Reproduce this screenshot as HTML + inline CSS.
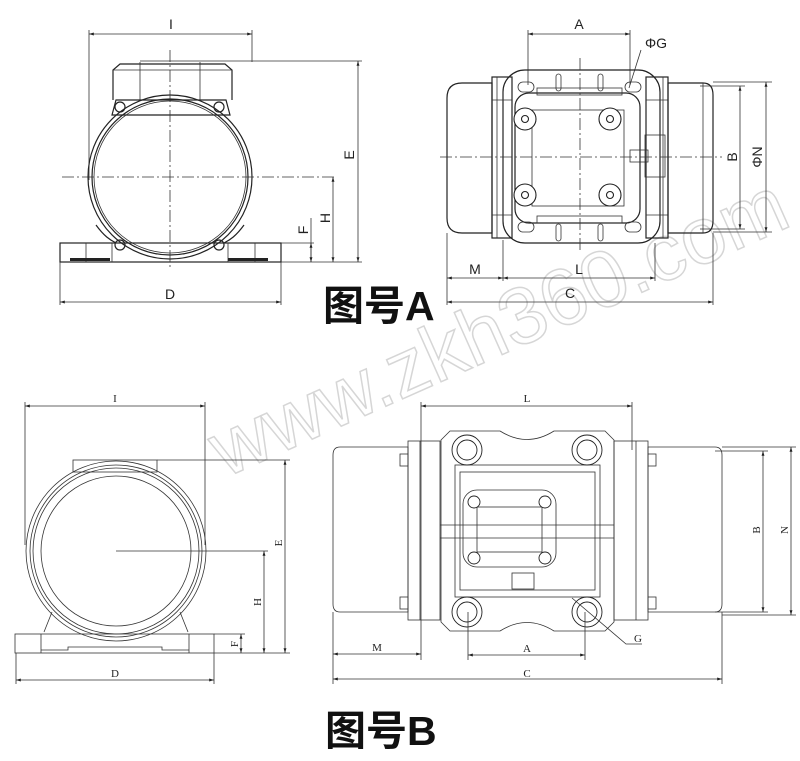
<!DOCTYPE html>
<html><head><meta charset="utf-8"><style>
html,body{margin:0;padding:0;background:#fff;width:800px;height:761px;overflow:hidden}
svg{display:block}
.l{stroke:#222;fill:none;stroke-width:1.2}
.t{stroke:#333;fill:none;stroke-width:0.8}
.d{stroke:#333;fill:none;stroke-width:0.8}
.c{stroke:#333;fill:none;stroke-width:0.8;stroke-dasharray:12 3 2 3}
.lb{font-family:"Liberation Sans",sans-serif;font-size:14px;fill:#222}
.ls{font-family:"Liberation Serif",serif;font-size:11px;fill:#222}
</style></head><body>
<svg width="800" height="761" viewBox="0 0 800 761" xmlns="http://www.w3.org/2000/svg">
<defs>
<marker id="a" viewBox="0 0 10 10" refX="10" refY="5" markerWidth="8" markerHeight="6" orient="auto-start-reverse"><path d="M0,2 L10,5 L0,8 z" fill="#222"/></marker>
</defs>

<!-- watermark -->
<text x="0" y="0" transform="translate(225,478) rotate(-24)" font-family="Liberation Sans,sans-serif" font-size="80" fill="none" stroke="#d6d6d6" stroke-width="1.5">www.zkh360.com</text>

<!-- ===== Top-left view A ===== -->
<g>
<line class="d" x1="89" y1="30" x2="89" y2="180"/>
<line class="d" x1="252" y1="30" x2="252" y2="62"/>
<line class="d" x1="89" y1="34" x2="252" y2="34" marker-start="url(#a)" marker-end="url(#a)"/>
<text class="lb" x="171" y="29" text-anchor="middle">I</text>
<path class="l" d="M113,100 L113,70 L120,64 L225,64 L232,70 L232,100"/>
<line class="t" x1="113" y1="70" x2="232" y2="70"/>
<line class="t" x1="140" y1="62" x2="140" y2="100"/><line class="t" x1="200" y1="62" x2="200" y2="100"/>
<line class="d" x1="140" y1="61" x2="362" y2="61"/>
<path class="l" d="M116,100 L226,100 L230,115 L112,115 Z" fill="#fff"/>
<circle class="l" cx="170" cy="177" r="82" fill="#fff"/>
<circle class="l" cx="170" cy="177" r="78"/>
<circle class="t" cx="170" cy="177" r="76"/>
<path class="l" d="M96,225 C104,236 110,240 116,243 M244,225 C236,236 230,240 224,243"/>
<rect class="l" x="60" y="243" width="221" height="19" fill="none"/>
<line class="t" x1="86" y1="243" x2="86" y2="262"/><line class="t" x1="112" y1="243" x2="112" y2="262"/>
<line class="t" x1="228" y1="243" x2="228" y2="262"/><line class="t" x1="255" y1="243" x2="255" y2="262"/>
<rect x="70" y="258" width="40" height="3" fill="#222"/><rect x="228" y="258" width="40" height="3" fill="#222"/>
<circle class="l" cx="120" cy="107" r="5"/><circle class="l" cx="219" cy="107" r="5"/>
<circle class="l" cx="120" cy="245" r="5"/><circle class="l" cx="219" cy="245" r="5"/>
<line class="c" x1="62" y1="177" x2="336" y2="177"/>
<line class="c" x1="170" y1="50" x2="170" y2="270"/>
<line class="d" x1="281" y1="262" x2="362" y2="262"/>
<line class="d" x1="333" y1="177" x2="333" y2="262" marker-start="url(#a)" marker-end="url(#a)"/>
<line class="d" x1="358" y1="61" x2="358" y2="262" marker-start="url(#a)" marker-end="url(#a)"/>
<line class="d" x1="311" y1="218" x2="311" y2="262"/>
<line class="d" x1="311" y1="243" x2="311" y2="262" marker-start="url(#a)" marker-end="url(#a)"/>
<line class="d" x1="281" y1="243" x2="314" y2="243"/>
<text class="lb" transform="translate(330,218) rotate(-90)" text-anchor="middle">H</text>
<text class="lb" transform="translate(354,155) rotate(-90)" text-anchor="middle">E</text>
<text class="lb" transform="translate(308,230) rotate(-90)" text-anchor="middle">F</text>
<line class="d" x1="60" y1="262" x2="60" y2="305"/><line class="d" x1="281" y1="262" x2="281" y2="305"/>
<line class="d" x1="60" y1="302" x2="281" y2="302" marker-start="url(#a)" marker-end="url(#a)"/>
<text class="lb" x="170" y="299" text-anchor="middle">D</text>
</g>

<!-- ===== Top-right view A ===== -->
<g>
<line class="d" x1="528" y1="30" x2="528" y2="85"/><line class="d" x1="630" y1="30" x2="630" y2="85"/>
<line class="d" x1="528" y1="34" x2="630" y2="34" marker-start="url(#a)" marker-end="url(#a)"/>
<text class="lb" x="579" y="29" text-anchor="middle">A</text>
<text class="lb" x="645" y="48" font-size="13">ΦG</text>
<line class="d" x1="641" y1="50" x2="629" y2="88"/>
<path class="l" d="M462,83 L492,83 L492,233 L462,233 Q447,233 447,218 L447,98 Q447,83 462,83 Z"/>
<rect class="l" x="503" y="70" width="157" height="173" rx="22"/>
<rect class="l" x="492" y="77" width="20" height="161" fill="#fff"/>
<rect class="l" x="646" y="77" width="22" height="161" fill="#fff"/>
<line class="t" x1="497" y1="77" x2="497" y2="238"/><line class="t" x1="663" y1="77" x2="663" y2="238"/>
<line class="t" x1="492" y1="100" x2="512" y2="100"/><line class="t" x1="492" y1="215" x2="512" y2="215"/>
<line class="t" x1="646" y1="100" x2="668" y2="100"/><line class="t" x1="646" y1="215" x2="668" y2="215"/>
<path class="l" d="M668,83 L703,83 Q713,83 713,95 L713,221 Q713,233 703,233 L668,233 Z"/>
<line class="t" x1="703" y1="83" x2="703" y2="233"/>
<rect class="l" x="515" y="93" width="125" height="130" rx="14"/>
<rect class="t" x="532" y="110" width="92" height="96"/>
<rect class="t" x="537" y="88" width="85" height="7"/><rect class="t" x="537" y="216" width="85" height="7"/>
<rect class="t" x="518" y="82" width="16" height="10" rx="5"/><rect class="t" x="625" y="82" width="16" height="10" rx="5"/>
<rect class="t" x="518" y="222" width="16" height="10" rx="5"/><rect class="t" x="625" y="222" width="16" height="10" rx="5"/>
<rect class="t" x="556" y="74" width="5" height="17" rx="2.5"/><rect class="t" x="598" y="74" width="5" height="17" rx="2.5"/>
<rect class="t" x="556" y="224" width="5" height="17" rx="2.5"/><rect class="t" x="598" y="224" width="5" height="17" rx="2.5"/>
<rect class="t" x="645" y="135" width="20" height="42"/><rect class="t" x="630" y="150" width="18" height="12"/>
<g fill="#fff" stroke="#222" stroke-width="1.1">
<circle cx="525" cy="119" r="11"/><circle cx="610" cy="119" r="11"/><circle cx="525" cy="195" r="11"/><circle cx="610" cy="195" r="11"/>
<circle cx="525" cy="119" r="3.5"/><circle cx="610" cy="119" r="3.5"/><circle cx="525" cy="195" r="3.5"/><circle cx="610" cy="195" r="3.5"/>
</g>
<line class="c" x1="440" y1="157" x2="722" y2="157"/>
<line class="c" x1="580" y1="58" x2="580" y2="252"/>
<line class="d" x1="713" y1="82" x2="772" y2="82"/><line class="d" x1="713" y1="232" x2="772" y2="232"/>
<line class="d" x1="700" y1="86" x2="745" y2="86"/><line class="d" x1="700" y1="229" x2="745" y2="229"/>
<line class="d" x1="740" y1="86" x2="740" y2="229" marker-start="url(#a)" marker-end="url(#a)"/>
<line class="d" x1="766" y1="82" x2="766" y2="232" marker-start="url(#a)" marker-end="url(#a)"/>
<text class="lb" transform="translate(737,157) rotate(-90)" text-anchor="middle">B</text>
<text class="lb" transform="translate(762,157) rotate(-90)" text-anchor="middle" font-size="13">ΦN</text>
<line class="d" x1="447" y1="233" x2="447" y2="305"/><line class="d" x1="503" y1="240" x2="503" y2="281"/>
<line class="d" x1="655" y1="243" x2="655" y2="281"/><line class="d" x1="713" y1="233" x2="713" y2="305"/>
<line class="d" x1="447" y1="278" x2="503" y2="278" marker-start="url(#a)" marker-end="url(#a)"/>
<line class="d" x1="503" y1="278" x2="655" y2="278" marker-start="url(#a)" marker-end="url(#a)"/>
<line class="d" x1="447" y1="302" x2="713" y2="302" marker-start="url(#a)" marker-end="url(#a)"/>
<text class="lb" x="475" y="274" text-anchor="middle">M</text>
<text class="lb" x="579" y="274" text-anchor="middle">L</text>
<text class="lb" x="570" y="298" text-anchor="middle">C</text>
</g>

<text x="323" y="320" font-family="Liberation Sans,'Noto Sans CJK SC',sans-serif" font-size="41" font-weight="bold" fill="#111">图号A</text>

<!-- ===== Bottom-left view B ===== -->
<g>
<line class="t" x1="25" y1="402" x2="25" y2="545"/><line class="t" x1="205" y1="402" x2="205" y2="545"/>
<line class="t" x1="25" y1="406" x2="205" y2="406" marker-start="url(#a)" marker-end="url(#a)"/>
<text class="ls" x="115" y="402" text-anchor="middle">I</text>
<rect class="t" x="73" y="460" width="84" height="12"/>
<line class="t" x1="157" y1="460" x2="290" y2="460"/>
<path class="t" d="M44,632 L52,612 M188,632 L180,612"/>
<circle class="t" cx="116" cy="551" r="90" fill="#fff"/>
<circle class="t" cx="116" cy="551" r="86"/>
<circle class="t" cx="116" cy="551" r="83"/>
<circle class="t" cx="116" cy="551" r="75"/>
<rect class="t" x="15" y="634" width="199" height="19" fill="#fff"/>
<line class="t" x1="41" y1="634" x2="41" y2="653"/><line class="t" x1="189" y1="634" x2="189" y2="653"/>
<path class="t" d="M41,650 L68,650 L68,647 L162,647 L162,650 L189,650"/>
<line class="t" x1="116" y1="551" x2="268" y2="551"/>
<line class="t" x1="214" y1="653" x2="290" y2="653"/><line class="t" x1="214" y1="634" x2="245" y2="634"/>
<line class="t" x1="264" y1="551" x2="264" y2="653" marker-start="url(#a)" marker-end="url(#a)"/>
<line class="t" x1="285" y1="460" x2="285" y2="653" marker-start="url(#a)" marker-end="url(#a)"/>
<line class="t" x1="241" y1="634" x2="241" y2="653" marker-start="url(#a)" marker-end="url(#a)"/>
<text class="ls" transform="translate(261,602) rotate(-90)" text-anchor="middle">H</text>
<text class="ls" transform="translate(282,543) rotate(-90)" text-anchor="middle">E</text>
<text class="ls" transform="translate(238,644) rotate(-90)" text-anchor="middle" font-size="9">F</text>
<line class="t" x1="16" y1="653" x2="16" y2="684"/><line class="t" x1="214" y1="653" x2="214" y2="684"/>
<line class="t" x1="16" y1="680" x2="214" y2="680" marker-start="url(#a)" marker-end="url(#a)"/>
<text class="ls" x="115" y="677" text-anchor="middle">D</text>
</g>

<!-- ===== Bottom-right view B ===== -->
<g>
<line class="t" x1="421" y1="402" x2="421" y2="660"/><line class="t" x1="632" y1="402" x2="632" y2="450"/>
<line class="t" x1="421" y1="406" x2="632" y2="406" marker-start="url(#a)" marker-end="url(#a)"/>
<text class="ls" x="527" y="402" text-anchor="middle">L</text>
<path class="t" d="M340,447 L408,447 L408,612 L340,612 Q333,612 333,604 L333,455 Q333,447 340,447 Z"/>
<path class="t" d="M648,447 L715,447 Q722,447 722,455 L722,604 Q722,612 715,612 L648,612 Z"/>
<path class="t" d="M441,441 L441,440 L450,431 L500,431 Q527,448 554,431 L605,431 L614,440 L614,622 L605,631 L554,631 Q527,614 500,631 L450,631 L441,622 Z"/>
<rect class="t" x="408" y="441" width="32" height="179" fill="#fff"/>
<rect class="t" x="614" y="441" width="34" height="179" fill="#fff"/>
<line class="t" x1="420" y1="441" x2="420" y2="620"/><line class="t" x1="636" y1="441" x2="636" y2="620"/>
<rect class="t" x="400" y="454" width="8" height="12"/><rect class="t" x="400" y="597" width="8" height="12"/>
<rect class="t" x="648" y="454" width="8" height="12"/><rect class="t" x="648" y="597" width="8" height="12"/>
<rect class="t" x="455" y="465" width="145" height="132"/>
<rect class="t" x="460" y="472" width="135" height="118"/>
<line class="t" x1="440" y1="525" x2="614" y2="525"/><line class="t" x1="440" y1="538" x2="614" y2="538"/>
<rect class="t" x="463" y="490" width="93" height="77" rx="14" fill="#fff"/>
<rect class="t" x="477" y="507" width="65" height="45"/>
<g fill="#fff" stroke="#222" stroke-width="0.9">
<circle cx="474" cy="502" r="6"/><circle cx="545" cy="502" r="6"/><circle cx="474" cy="558" r="6"/><circle cx="545" cy="558" r="6"/>
<circle cx="467" cy="450" r="15"/><circle cx="587" cy="450" r="15"/><circle cx="467" cy="612" r="15"/><circle cx="587" cy="612" r="15"/>
<circle cx="467" cy="450" r="10"/><circle cx="587" cy="450" r="10"/><circle cx="467" cy="612" r="10"/><circle cx="587" cy="612" r="10"/>
</g>
<rect class="t" x="512" y="573" width="22" height="16"/>
<line class="t" x1="722" y1="447" x2="796" y2="447"/><line class="t" x1="722" y1="615" x2="796" y2="615"/>
<line class="t" x1="715" y1="451" x2="768" y2="451"/><line class="t" x1="715" y1="612" x2="768" y2="612"/>
<line class="t" x1="763" y1="451" x2="763" y2="612" marker-start="url(#a)" marker-end="url(#a)"/>
<line class="t" x1="791" y1="447" x2="791" y2="615" marker-start="url(#a)" marker-end="url(#a)"/>
<text class="ls" transform="translate(760,530) rotate(-90)" text-anchor="middle">B</text>
<text class="ls" transform="translate(788,530) rotate(-90)" text-anchor="middle">N</text>
<line class="t" x1="333" y1="612" x2="333" y2="684"/><line class="t" x1="722" y1="612" x2="722" y2="684"/>
<line class="t" x1="468" y1="612" x2="468" y2="660"/><line class="t" x1="585" y1="612" x2="585" y2="660"/>
<line class="t" x1="333" y1="654" x2="421" y2="654" marker-start="url(#a)" marker-end="url(#a)"/>
<line class="t" x1="468" y1="655" x2="585" y2="655" marker-start="url(#a)" marker-end="url(#a)"/>
<line class="t" x1="333" y1="679" x2="722" y2="679" marker-start="url(#a)" marker-end="url(#a)"/>
<text class="ls" x="377" y="651" text-anchor="middle">M</text>
<text class="ls" x="527" y="652" text-anchor="middle">A</text>
<text class="ls" x="527" y="677" text-anchor="middle">C</text>
<path class="t" d="M572,598 L626,644 L642,644"/>
<text class="ls" x="638" y="642" text-anchor="middle">G</text>
</g>

<text x="325" y="745" font-family="Liberation Sans,'Noto Sans CJK SC',sans-serif" font-size="41" font-weight="bold" fill="#111">图号B</text>
</svg>
</body></html>
